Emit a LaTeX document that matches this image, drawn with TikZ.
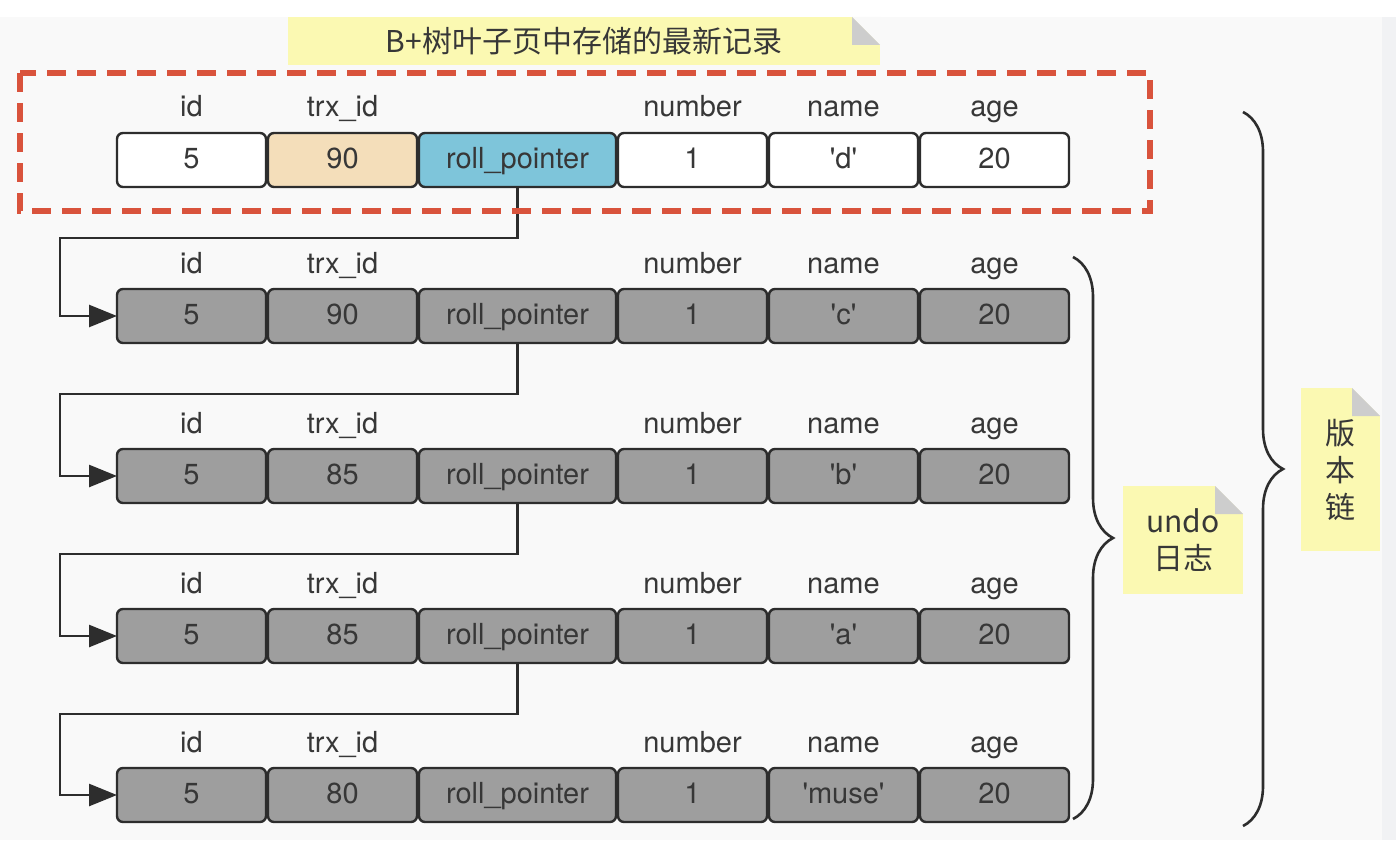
\documentclass[tikz,border=0pt]{standalone}
\usepackage{fontspec}
\setmainfont{TeX Gyre Heros}
\newfontfamily\cjk{Noto Sans CJK SC}
\usepackage{tikz}
\usetikzlibrary{positioning,arrows.meta,decorations.pathreplacing}

\definecolor{bgc}{RGB}{249,249,249}
\definecolor{stripc}{RGB}{241,242,244}
\definecolor{linec}{RGB}{45,45,45}
\definecolor{txtc}{RGB}{55,55,55}
\definecolor{cellg}{RGB}{158,158,158}
\definecolor{trxc}{RGB}{244,222,186}
\definecolor{rpc}{RGB}{126,197,218}
\definecolor{notey}{RGB}{251,249,178}
\definecolor{foldc}{RGB}{205,205,205}
\definecolor{redc}{RGB}{217,83,60}

\tikzset{
  cell/.style={draw=linec,line width=1.2pt,rounded corners=3pt,minimum width=74.5pt,
    minimum height=27pt,inner sep=0pt,outer sep=0pt,text=txtc,text height=10pt,text depth=2pt,
    font=\fontsize{14.5}{17}\selectfont},
  wide/.style={minimum width=98.5pt},
  lbl/.style={text=txtc,font=\fontsize{14.5}{17}\selectfont,text height=11pt,text depth=3pt,inner sep=0pt},
  chain/.style={draw=linec,line width=1.3pt,-{Triangle[length=14pt,width=11pt]}},
  note/.style={fill=notey,inner sep=0pt,text=txtc,align=center,
    font=\cjk\fontsize{15}{18.5}\selectfont,
    path picture={
      \fill[bgc] (path picture bounding box.north east) -- ++(-14pt,0) -- ++(14pt,-14pt) -- cycle;
      \fill[foldc] (path picture bounding box.north east) ++(-14pt,0) -- ++(0,-14pt) -- ++(14pt,0) -- cycle;}},
  brc/.style={draw=linec,line width=1.3pt,decorate,decoration={brace,amplitude=20pt}}
}

\begin{document}
\begin{tikzpicture}[x=0.5pt,y=-0.5pt]
\useasboundingbox (0,0) rectangle (1396,840);
\fill[white] (0,0) rectangle (1396,840);
\fill[bgc] (0,17) rectangle (1382,840);
\fill[stripc] (1382,17) rectangle (1396,840);

\foreach \r/\yc/\trx/\nm/\fa/\fb/\fc in {1/160/90/d/white/trxc/rpc,2/316/90/c/cellg/cellg/cellg,
    3/476/85/b/cellg/cellg/cellg,4/636/85/a/cellg/cellg/cellg,5/795/80/muse/cellg/cellg/cellg}{
  \node[cell,fill=\fa] (r\r-id) at (191.5,\yc) {5};
  \node[cell,fill=\fb,right=1pt of r\r-id] (r\r-trx) {\trx};
  \node[cell,wide,fill=\fc,right=1pt of r\r-trx] (r\r-rp) {roll\_pointer};
  \node[cell,fill=\fa,right=1pt of r\r-rp] (r\r-num) {1};
  \node[cell,fill=\fa,right=1pt of r\r-num] (r\r-name) {\textquotesingle\nm\textquotesingle};
  \node[cell,fill=\fa,right=1pt of r\r-name] (r\r-age) {20};
  \foreach \c/\t in {id/id,trx/trx\_id,num/number,name/name,age/age}
    \node[lbl] (r\r-\c-l) at ([yshift=12pt]r\r-\c.north) {\t};
}

\foreach \a/\b in {1/2,2/3,3/4,4/5}{
  \coordinate (k\a) at ([yshift=-25.5pt]r\a-rp.south);
  \coordinate (t\b) at ([xshift=-28.5pt]r\b-id.west);
  \draw[chain] (r\a-rp.south) -- (k\a) -| (t\b) -- (r\b-id.west);
}

\draw[redc,line width=3pt,dash pattern=on 9.5pt off 5.5pt] (20,73) rectangle (1150,211);

\node[note,minimum width=296pt,minimum height=24pt] (latest) at (584,41) {B+树叶子页中存储的最新记录};
\node[note,minimum width=60pt,minimum height=54pt] (undo) at (1183,540) {undo\\日志};
\node[note,minimum width=39.5pt,minimum height=81.5pt] (chain) at (1340.5,469.5) {版\\本\\链};

\draw[brc] (1073,257) -- (1073,819);
\draw[brc] (1243,112) -- (1243,826);
\end{tikzpicture}
\end{document}
